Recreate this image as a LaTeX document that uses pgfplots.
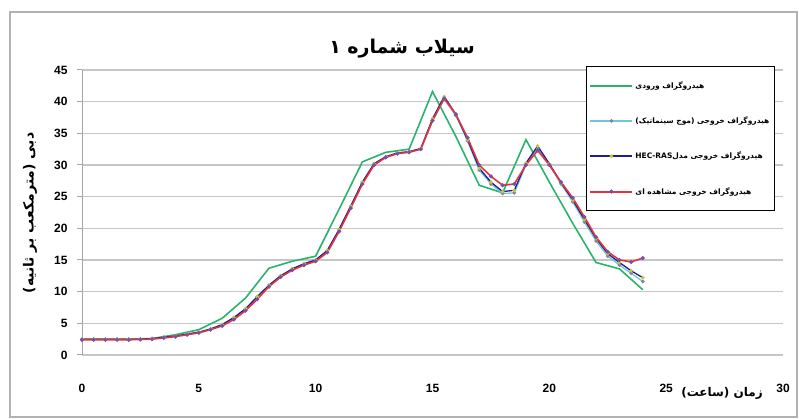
\documentclass[border=0pt]{standalone}
\usepackage{fontspec}
\usepackage{pgfplots}
\pgfplotsset{compat=1.18}
\setmainfont{Liberation Sans}
\newfontfamily\arabicfont[Script=Arabic]{DejaVu Sans}
\TeXXeTstate=1
\definecolor{inflowc}{RGB}{40,180,110}
\definecolor{kinem}{RGB}{110,200,215}
\definecolor{kinmark}{RGB}{140,130,150}
\definecolor{hecline}{RGB}{30,30,140}
\definecolor{hecmark}{RGB}{190,200,60}
\definecolor{obsline}{RGB}{230,50,60}
\definecolor{obsmark}{RGB}{120,80,170}
\pgfplotstableread{
t q
0 2.5
1 2.5
2 2.5
3 2.6
4 3.2
5 4.0
6 5.8
7 9.0
8 13.7
9 14.8
10 15.6
11 23.0
12 30.5
13 32.0
14 32.5
15 41.6
16 34.5
17 26.8
18 25.6
19 34.0
20 27.3
21 20.8
22 14.6
23 13.6
24 10.3
}\tabin
\pgfplotstableread{
t q
0 2.5
0.5 2.5
1 2.5
1.5 2.5
2 2.5
2.5 2.5
3 2.6
3.5 2.8
4 3.0
4.5 3.3
5 3.6
5.5 4.1
6 4.8
6.5 5.9
7 7.3
7.5 9.2
8 11.0
8.5 12.5
9 13.6
9.5 14.4
10 15.0
10.5 16.5
11 19.8
11.5 23.5
12 27.3
12.5 30.2
13 31.3
13.5 31.9
14 32.1
14.5 32.6
15 37.0
15.5 40.4
16 37.8
16.5 33.8
17 29.2
17.5 27.0
18 25.5
18.5 25.6
19 30.0
19.5 32.6
20 30.0
20.5 27.0
21 24.2
21.5 21.0
22 18.0
22.5 15.6
23 14.2
23.5 12.9
24 11.6
}\tabkin
\pgfplotstableread{
t q
0 2.5
0.5 2.5
1 2.5
1.5 2.5
2 2.5
2.5 2.5
3 2.6
3.5 2.8
4 3.0
4.5 3.3
5 3.6
5.5 4.1
6 4.8
6.5 5.9
7 7.3
7.5 9.2
8 11.0
8.5 12.5
9 13.6
9.5 14.4
10 15.0
10.5 16.5
11 19.8
11.5 23.5
12 27.3
12.5 30.2
13 31.3
13.5 31.9
14 32.1
14.5 32.6
15 37.3
15.5 40.8
16 38.0
16.5 34.0
17 29.5
17.5 27.3
18 25.8
18.5 26.0
19 30.3
19.5 33.0
20 30.2
20.5 27.2
21 24.5
21.5 21.4
22 18.4
22.5 16.0
23 14.6
23.5 13.3
24 12.2
}\tabhec
\pgfplotstableread{
t q
0 2.4
0.5 2.4
1 2.4
1.5 2.4
2 2.4
2.5 2.45
3 2.5
3.5 2.7
4 2.9
4.5 3.2
5 3.5
5.5 4.0
6 4.6
6.5 5.6
7 7.0
7.5 8.8
8 10.8
8.5 12.3
9 13.4
9.5 14.2
10 14.8
10.5 16.2
11 19.5
11.5 23.2
12 27.0
12.5 30.0
13 31.2
13.5 31.8
14 32.0
14.5 32.5
15 37.0
15.5 40.5
16 38.0
16.5 34.3
17 30.0
17.5 28.2
18 26.8
18.5 27.0
19 30.0
19.5 32.3
20 30.0
20.5 27.3
21 24.8
21.5 21.8
22 18.6
22.5 16.3
23 15.0
23.5 14.7
24 15.3
}\tabobs
\begin{document}
\begin{tikzpicture}[x=1pt,y=1pt]
\path[use as bounding box] (0,0) rectangle (799,419);
\draw[gray!60, line width=1.5pt] (10,2) rectangle (797,407);
\begin{axis}[
  at={(82pt,64pt)}, anchor=south west,
  scale only axis, width=701pt, height=285pt,
  xmin=0, xmax=30, ymin=0, ymax=45,
  xtick={0,5,...,30}, ytick={0,5,...,45},
  axis lines*=left,
  x axis line style={draw=none},
  y axis line style={gray!70, line width=1pt},
  xtick style={draw=none},
  ytick style={gray!70, line width=1pt},
  tick align=outside, major tick length=5pt,
  ymajorgrids, grid style={gray!45, line width=1.3pt},
  /pgf/number format/assume math mode=true,
  ticklabel style={font=\bfseries\fontsize{12}{14}\selectfont},
  xticklabel style={yshift=-21pt},
  yticklabel style={xshift=-6pt},
  clip=false,
  legend style={at={(0.719,1.014)}, anchor=north west, draw=black, thick,
    fill=white, font=\arabicfont\bfseries\fontsize{7.5}{9}\selectfont,
    row sep=23pt, inner xsep=3pt, inner ysep=13pt},
  legend cell align=left,
  legend image code/.code={%
    \draw[#1, mark=none, line width=2pt] (0pt,0pt) -- (42pt,0pt);
    \draw[#1, draw=none] plot coordinates {(21pt,0pt)};},
]
\addplot[draw=inflowc, line width=1.6pt, mark=none] table {\tabin};
\addlegendentry{\beginR هیدروگراف ورودی\endR}
\addplot[draw=kinem, line width=1.3pt, mark=*, mark size=1.1pt, mark options={fill=kinmark, draw=kinmark}] table {\tabkin};
\addlegendentry{\beginR هیدروگراف خروجی (موج سینماتیک)\endR}
\addplot[draw=hecline, line width=1.3pt, mark=*, mark size=1.1pt, mark options={fill=hecmark, draw=hecmark}] table {\tabhec};
\addlegendentry{\beginR هیدروگراف خروجی مدل\beginL HEC-RAS\endL{}\endR}
\addplot[draw=obsline, line width=1.6pt, mark=*, mark size=1.1pt, mark options={fill=obsmark, draw=obsmark}] table {\tabobs};
\addlegendentry{\beginR هیدروگراف خروجی مشاهده ای\endR}
\end{axis}
\node at (402,370) {\arabicfont\bfseries\fontsize{19}{23}\selectfont\beginR سیلاب شماره ۱\endR};
\node[rotate=90] at (30,206) {\arabicfont\bfseries\fontsize{14}{17}\selectfont\beginR دبی (مترمکعب بر ثانیه)\endR};
\node at (722,26) {\arabicfont\bfseries\fontsize{12}{14}\selectfont\beginR زمان (ساعت)\endR};
\end{tikzpicture}
\end{document}
